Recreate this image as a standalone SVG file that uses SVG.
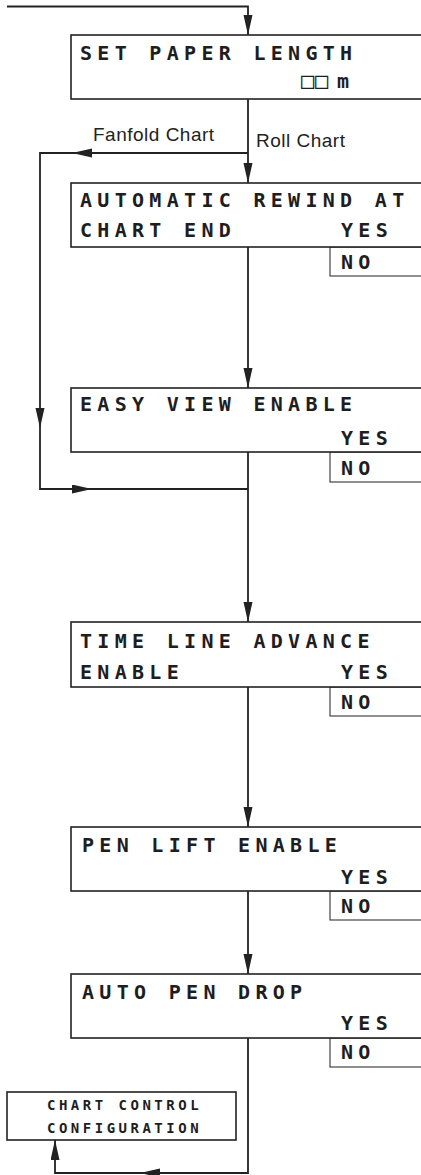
<svg xmlns="http://www.w3.org/2000/svg" width="421" height="1175" viewBox="0 0 421 1175">
<style>
.bg{fill:#ffffff}
.box{fill:#ffffff;stroke:#222;stroke-width:1.6}
.nobox{fill:#ffffff;stroke:#333;stroke-width:1.1}
.lcd{font-family:"DejaVu Sans Mono","Liberation Mono",monospace;font-size:20px;font-weight:bold;letter-spacing:5.3px;fill:#1e1e1e}
.sq{font-family:"DejaVu Sans Mono","Liberation Mono",monospace;font-size:22px;font-weight:normal;letter-spacing:0;fill:#1e1e1e}
.small{font-family:"DejaVu Sans Mono","Liberation Mono",monospace;font-size:14px;font-weight:bold;letter-spacing:3.5px;fill:#1e1e1e}
.lbl{font-family:"Liberation Sans",Arial,sans-serif;font-size:19px;letter-spacing:0.5px;fill:#222}
.con{fill:none;stroke:#222;stroke-width:1.8}
</style>
<defs>
<marker id="ah" markerUnits="userSpaceOnUse" markerWidth="22" markerHeight="10" refX="20" refY="4.5" orient="auto">
<path d="M0,0 L20,4.5 L0,9 z" fill="#222"/>
</marker>
</defs>
<rect class="bg" x="0" y="0" width="421" height="1175"/>
<g id="connectors">
<path class="con" d="M7,6.5 H248 V35" marker-end="url(#ah)"/>
<path class="con" d="M248,99 V183" marker-end="url(#ah)"/>
<path class="con" d="M248,153 H72" marker-end="url(#ah)"/>
<path class="con" d="M72,153 H40 V428" marker-end="url(#ah)"/>
<path class="con" d="M40,428 V489 H92" marker-end="url(#ah)"/>
<path class="con" d="M92,489 H248"/>
<path class="con" d="M248,247 V388" marker-end="url(#ah)"/>
<path class="con" d="M248,452 V622" marker-end="url(#ah)"/>
<path class="con" d="M248,687 V827" marker-end="url(#ah)"/>
<path class="con" d="M248,891 V974" marker-end="url(#ah)"/>
<path class="con" d="M248,1038 V1173 H140" marker-end="url(#ah)"/>
<path class="con" d="M140,1173 H55 V1140" marker-end="url(#ah)"/>
<text class="lbl" x="93" y="141">Fanfold Chart</text>
<text class="lbl" x="256" y="147">Roll Chart</text>
</g>
<g id="node-set-paper-length">
<rect class="box" x="71" y="35" width="400" height="64"/>
<text class="lcd" x="80" y="60">SET PAPER LENGTH</text>
<text class="sq" y="88"><tspan x="301">□</tspan><tspan x="315">□</tspan></text>
<text class="lcd" x="337" y="88">m</text>
</g>
<g id="node-auto-rewind">
<rect class="nobox" x="330" y="247" width="120" height="29"/>
<rect class="box" x="71" y="183" width="400" height="64"/>
<text class="lcd" x="80" y="207">AUTOMATIC REWIND AT</text>
<text class="lcd" x="80" y="237">CHART END</text>
<text class="lcd" x="341" y="237">YES</text>
<text class="lcd" x="341" y="269">NO</text>
</g>
<g id="node-easy-view">
<rect class="nobox" x="330" y="452" width="120" height="30"/>
<rect class="box" x="71" y="388" width="400" height="64"/>
<text class="lcd" x="80" y="411">EASY VIEW ENABLE</text>
<text class="lcd" x="341" y="445">YES</text>
<text class="lcd" x="341" y="475">NO</text>
</g>
<g id="node-time-line">
<rect class="nobox" x="330" y="687" width="120" height="29"/>
<rect class="box" x="71" y="622" width="400" height="65"/>
<text class="lcd" x="80" y="648">TIME LINE ADVANCE</text>
<text class="lcd" x="80" y="679">ENABLE</text>
<text class="lcd" x="341" y="679">YES</text>
<text class="lcd" x="341" y="709">NO</text>
</g>
<g id="node-pen-lift">
<rect class="nobox" x="330" y="891" width="120" height="29"/>
<rect class="box" x="71" y="827" width="400" height="64"/>
<text class="lcd" x="82" y="852">PEN LIFT ENABLE</text>
<text class="lcd" x="341" y="884">YES</text>
<text class="lcd" x="341" y="913">NO</text>
</g>
<g id="node-auto-pen-drop">
<rect class="nobox" x="330" y="1038" width="120" height="29"/>
<rect class="box" x="71" y="974" width="400" height="64"/>
<text class="lcd" x="82" y="999">AUTO PEN DROP</text>
<text class="lcd" x="341" y="1030">YES</text>
<text class="lcd" x="341" y="1059">NO</text>
</g>
<g id="node-chart-control">
<rect class="box" x="7" y="1092" width="229" height="48"/>
<text class="small" x="47" y="1110">CHART CONTROL</text>
<text class="small" x="47" y="1133">CONFIGURATION</text>
</g>
</svg>
